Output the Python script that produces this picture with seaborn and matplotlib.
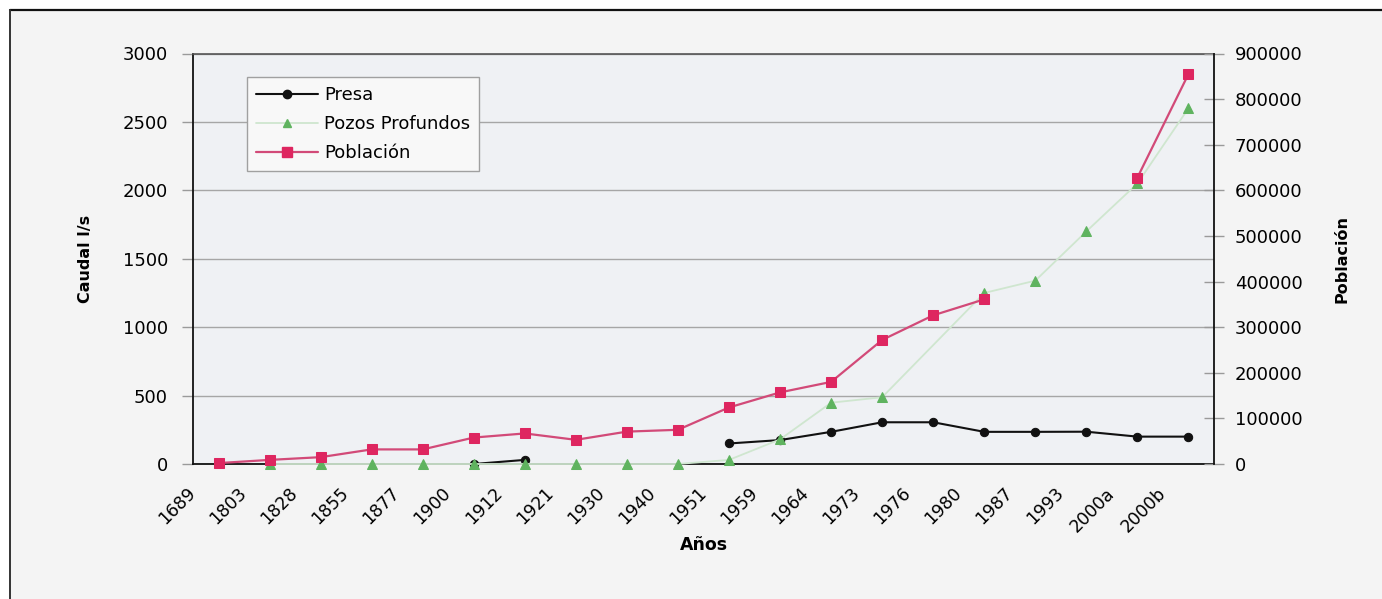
import numpy as np
import pandas as pd
import matplotlib
matplotlib.use("Agg")
import matplotlib.pyplot as plt
from matplotlib.lines import Line2D
from matplotlib.patches import Rectangle
import seaborn as sns

# --- data -----------------------------------------------------------------
years = ["1689", "1803", "1828", "1855", "1877", "1900", "1912", "1921",
         "1930", "1940", "1951", "1959", "1964", "1973", "1976", "1980",
         "1987", "1993", "2000a", "2000b"]

nan = np.nan
# caudal (l/s)
presa = [nan, nan, nan, nan, nan, 0, 30, nan, nan, nan,
         150, 175, 235, 305, 305, 235, 235, 236, 200, 200]
pozos = [nan, 0, 0, 0, 0, 0, 0, 0, 0, 0,
         30, 180, 448, 488, nan, 1250, 1340, 1700, 2050, 2600]
# habitantes
poblacion = [2000, 9000, 15000, 32000, 32000, 58000, 67000, 53000, 71000, 75000,
             124000, 157000, 180000, 272000, 326000, 361000, nan, nan, 628000, 855000]

left_ticks = list(range(0, 3001, 500))
right_ticks = list(range(0, 900001, 100000))


def as_frame(values, break_on_gaps=True):
    s = pd.Series(values, dtype=float)
    seg = s.isna().cumsum() if break_on_gaps else pd.Series(0, index=s.index)
    df = pd.DataFrame({"pos": np.arange(len(s)), "val": s, "seg": seg})
    return df.dropna()


# --- style ----------------------------------------------------------------
sns.set_theme(style="white")
plt.rcParams["font.family"] = ["DejaVu Sans"]
plt.rcParams["text.color"] = "black"
plt.rcParams["axes.labelcolor"] = "black"

W, H = 1382, 599
fig = plt.figure(figsize=(W / 100, H / 100), dpi=100, facecolor="white")

# framed panel
fig.patches.append(Rectangle((10 / W, 0), 1, 1 - 10 / H, transform=fig.transFigure,
                             facecolor="#f4f4f4", edgecolor="none", zorder=-10))
fig.lines.append(Line2D([10 / W, 1], [1 - 10 / H, 1 - 10 / H], transform=fig.transFigure,
                        color="#111111", lw=1.6))
fig.lines.append(Line2D([10 / W, 10 / W], [0, 1 - 10 / H], transform=fig.transFigure,
                        color="#333333", lw=1.4))

ax = fig.add_axes([193 / W, 1 - 464 / H, (1214 - 193) / W, (464 - 53.5) / H])
ax.set_facecolor("#eff1f4")
ax2 = ax.twinx()

BLACK = "#111111"
GREEN = "#5fb35f"
GREEN_LINE = "#cfe6cf"
PINK = "#de2660"
PINK_LINE = "#d24a78"

# Pozos profundos (pale line joins all available points)
sns.lineplot(data=as_frame(pozos, break_on_gaps=False), x="pos", y="val", units="seg",
             estimator=None, ax=ax, color=GREEN_LINE, lw=1.3, marker="^", markersize=6.5,
             markerfacecolor=GREEN, markeredgecolor=GREEN, legend=False, zorder=3,
             clip_on=False)

# Presa
sns.lineplot(data=as_frame(presa), x="pos", y="val", units="seg", estimator=None, ax=ax,
             color=BLACK, lw=1.5, marker="o", markersize=6, markerfacecolor=BLACK,
             markeredgecolor=BLACK, legend=False, zorder=2, clip_on=False)

# Población (right axis)
sns.lineplot(data=as_frame(poblacion), x="pos", y="val", units="seg", estimator=None, ax=ax2,
             color=PINK_LINE, lw=1.6, marker="s", markersize=7.5, markerfacecolor=PINK,
             markeredgecolor=PINK, legend=False, zorder=3, clip_on=False)

# --- axes -----------------------------------------------------------------
n = len(years)
ax.set_xlim(-0.5, n - 0.5)
ax.set_ylim(0, 3000)
ax2.set_ylim(0, 900000)

ax.set_xticks(np.arange(n) - 0.5)
ax.set_xticklabels(years, rotation=45, ha="right", va="center", rotation_mode="anchor",
                   fontsize=12.5)
ax.tick_params(axis="x", bottom=True, length=0, pad=19, labelcolor="black")

ax.set_yticks(left_ticks)
ax.set_yticklabels([str(v) for v in left_ticks], fontsize=13)
ax.tick_params(axis="y", left=True, direction="out", length=8, width=1, color="#9a9a9a",
               pad=10, labelcolor="black")

ax2.set_yticks(right_ticks)
ax2.set_yticklabels([str(v) for v in right_ticks], fontsize=13)
ax2.tick_params(axis="y", right=True, direction="inout", length=14, width=1, color="#9a9a9a",
                pad=8, labelcolor="black")

ax.yaxis.grid(True, color="#a6a6a6", lw=1)
ax.xaxis.grid(False)
ax.set_axisbelow(True)

for side, sp in ax.spines.items():
    sp.set_visible(side in ("left", "bottom", "top"))
ax.spines["left"].set_color(BLACK)
ax.spines["bottom"].set_color(BLACK)
ax.spines["top"].set_color("#555555")
for s in ("left", "bottom"):
    ax.spines[s].set_linewidth(1.3)
ax.spines["top"].set_linewidth(1.2)
for side, sp in ax2.spines.items():
    sp.set_visible(side == "right")
ax2.spines["right"].set_color(BLACK)
ax2.spines["right"].set_linewidth(1.3)

ax.set_ylabel("Caudal l/s", fontsize=11.5, fontweight="bold")
ax.yaxis.set_label_coords(-0.098, 0.5)
ax2.set_ylabel("Población", fontsize=11.5, fontweight="bold")
ax2.yaxis.set_label_coords(1.1185, 0.5)
ax.set_xlabel("Años", fontsize=12.5, fontweight="bold")
ax.xaxis.set_label_coords(0.5, -0.175)

handles = [
    Line2D([], [], color=BLACK, lw=1.5, marker="o", markersize=6),
    Line2D([], [], color=GREEN_LINE, lw=1.3, marker="^", markersize=6,
           markerfacecolor=GREEN, markeredgecolor=GREEN),
    Line2D([], [], color=PINK_LINE, lw=1.6, marker="s", markersize=7.5,
           markerfacecolor=PINK, markeredgecolor=PINK),
]
leg = ax2.legend(handles, ["Presa", "Pozos Profundos", "Población"], loc="upper left",
                 bbox_to_anchor=(0.053, 0.942), fontsize=13, handlelength=3.4,
                 handletextpad=0.35, labelspacing=0.6, borderpad=0.5, borderaxespad=0,
                 frameon=True, fancybox=False, framealpha=1)
leg.get_frame().set_edgecolor("#a0a0a0")
leg.get_frame().set_facecolor("#f8f8f8")
leg.get_frame().set_linewidth(1)

fig.savefig("out.png", dpi=100, facecolor=fig.get_facecolor())
